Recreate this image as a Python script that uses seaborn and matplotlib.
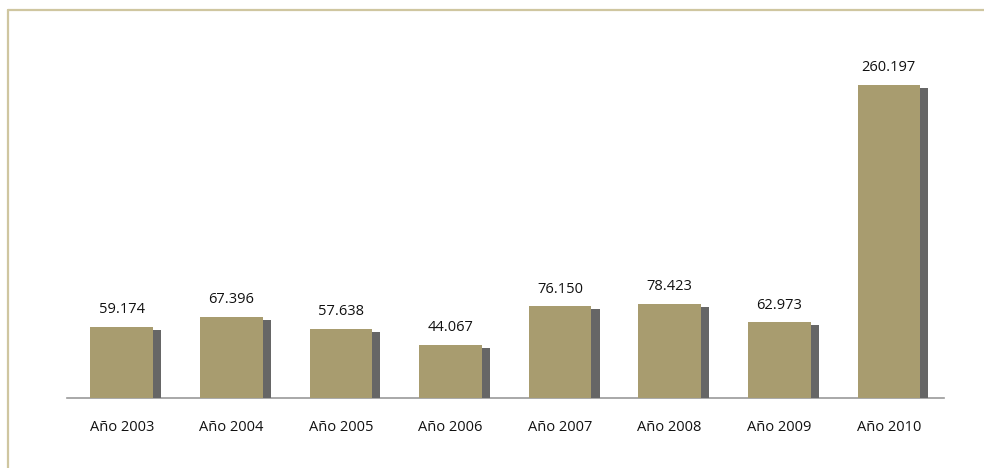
import pandas as pd
import numpy as np
import matplotlib.pyplot as plt
import matplotlib.patheffects as pe
from matplotlib.lines import Line2D
import seaborn as sns

# Data
years = ["Año 2003", "Año 2004", "Año 2005", "Año 2006",
         "Año 2007", "Año 2008", "Año 2009", "Año 2010"]
values = [59.174, 67.396, 57.638, 44.067, 76.150, 78.423, 62.973, 260.197]
labels = ["59.174", "67.396", "57.638", "44.067", "76.150", "78.423", "62.973", "260.197"]

df = pd.DataFrame({"year": years, "value": values})

sns.set_style("white")
plt.rcParams["font.family"] = ["Open Sans", "DejaVu Sans"]

fig = plt.figure(figsize=(9.84, 4.68), dpi=100)
ax = fig.add_axes([0.068, 0.1496, 0.891, 0.771])

sns.barplot(data=df, x="year", y="value", color="#A89C6F", width=0.57,
            saturation=1, linewidth=0, ax=ax)

for bar in ax.patches:
    bar.set_path_effects([
        pe.SimplePatchShadow(offset=(6, -2.2), shadow_rgbFace="#666666", alpha=1),
        pe.Normal(),
    ])

for i, v in enumerate(values):
    ax.annotate(labels[i], (i, v), xytext=(0, 7), textcoords="offset points",
                ha="center", va="bottom", fontsize=10.5, color="#111111")

ax.set_ylim(0, 300)
ax.set_xlim(-0.5, 7.5)
ax.set_xlabel("")
ax.set_ylabel("")
ax.set_yticks([])
ax.tick_params(axis="x", length=0, pad=16, labelsize=10.5, colors="#111111")
for s in ["top", "right", "left"]:
    ax.spines[s].set_visible(False)
ax.spines["bottom"].set_color("#9a9a9a")
ax.spines["bottom"].set_linewidth(1.2)
ax.spines["bottom"].set_zorder(0)

# outer frame (top and left edges)
frame_c = "#CFC6A0"
fig.add_artist(Line2D([8 / 984, 1.0], [1 - 10 / 468, 1 - 10 / 468],
                      transform=fig.transFigure, color=frame_c, lw=1.6))
fig.add_artist(Line2D([8 / 984, 8 / 984], [0, 1 - 10 / 468],
                      transform=fig.transFigure, color=frame_c, lw=1.6))

plt.savefig("out.png", dpi=100)
plt.close()
